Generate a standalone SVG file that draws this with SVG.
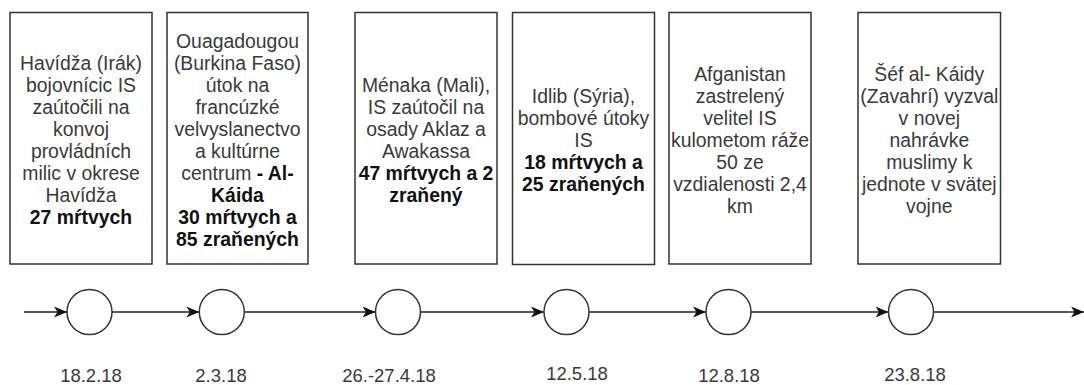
<svg xmlns="http://www.w3.org/2000/svg" width="1084" height="385" viewBox="0 0 1084 385">
<defs>
<style>
.box{fill:#fff;stroke:#333;stroke-width:1.5}
.ev{fill:#fff;stroke:#333;stroke-width:1.5}
.t{font-family:"Liberation Sans",Arial,sans-serif;font-size:19.4px;fill:#3a3a3a;text-anchor:middle}
.b{font-weight:bold;fill:#111}
.d{font-family:"Liberation Sans",Arial,sans-serif;font-size:18.5px;fill:#3a3a3a;text-anchor:middle}
.c{fill:none;stroke:#222;stroke-width:1.5}
</style>
<marker id="arr" markerUnits="userSpaceOnUse" markerWidth="14" markerHeight="12" refX="13" refY="6" orient="auto">
<path d="M0,0.5 L13,6 L0,11.5 L3.5,6 Z" fill="#111"/>
</marker>
</defs>
<rect width="1084" height="385" fill="#fff"/>
<g id="connectors">
<line class="c" x1="24" y1="312" x2="67" y2="312" marker-end="url(#arr)"/>
<line class="c" x1="112" y1="312" x2="199.3" y2="312" marker-end="url(#arr)"/>
<line class="c" x1="244.3" y1="312" x2="375.5" y2="312" marker-end="url(#arr)"/>
<line class="c" x1="420.5" y1="312" x2="544" y2="312" marker-end="url(#arr)"/>
<line class="c" x1="589" y1="312" x2="706" y2="312" marker-end="url(#arr)"/>
<line class="c" x1="751" y1="312" x2="888.5" y2="312" marker-end="url(#arr)"/>
<line class="c" x1="933.5" y1="312" x2="1084" y2="312" marker-end="url(#arr)"/>
</g>
<g id="box1">
<rect class="box" x="10" y="12.5" width="142" height="251.5"/>
<text class="t" x="81" y="69.5">Havídža (Irák)<tspan x="81" dy="22">bojovnícic IS</tspan><tspan x="81" dy="22">zaútočili na</tspan><tspan x="81" dy="22">konvoj</tspan><tspan x="81" dy="22">provládních</tspan><tspan x="81" dy="22">milic v okrese</tspan><tspan x="81" dy="22">Havídža</tspan><tspan x="81" dy="22" class="b">27 mŕtvych</tspan></text>
</g>
<g id="box2">
<rect class="box" x="167" y="12.5" width="141" height="251.5"/>
<text class="t" x="237.5" y="47.5">Ouagadougou<tspan x="237.5" dy="22">(Burkina Faso)</tspan><tspan x="237.5" dy="22">útok na</tspan><tspan x="237.5" dy="22">francúzké</tspan><tspan x="237.5" dy="22">velvyslanectvo</tspan><tspan x="237.5" dy="22">a kultúrne</tspan><tspan x="237.5" dy="22">centrum <tspan class="b">- Al-</tspan></tspan><tspan x="237.5" dy="22" class="b">Káida</tspan><tspan x="237.5" dy="22" class="b">30 mŕtvych a</tspan><tspan x="237.5" dy="22" class="b">85 zraňených</tspan></text>
</g>
<g id="box3">
<rect class="box" x="355" y="12.5" width="142" height="251.5"/>
<text class="t" x="426" y="91.5">Ménaka (Mali),<tspan x="426" dy="22">IS zaútočil na</tspan><tspan x="426" dy="22">osady Aklaz a</tspan><tspan x="426" dy="22">Awakassa</tspan><tspan x="426" dy="22" class="b">47 mŕtvych a 2</tspan><tspan x="426" dy="22" class="b">zraňený</tspan></text>
</g>
<g id="box4">
<rect class="box" x="512.5" y="12.5" width="142" height="252"/>
<text class="t" x="583.5" y="102.5">Idlib (Sýria),<tspan x="583.5" dy="22">bombové útoky</tspan><tspan x="583.5" dy="22">IS</tspan><tspan x="583.5" dy="22" class="b">18 mŕtvych a</tspan><tspan x="583.5" dy="22" class="b">25 zraňených</tspan></text>
</g>
<g id="box5">
<rect class="box" x="669" y="12.5" width="142" height="251.5"/>
<text class="t" x="740" y="80.5">Afganistan<tspan x="740" dy="22">zastrelený</tspan><tspan x="740" dy="22">velitel IS</tspan><tspan x="740" dy="22">kulometom ráže</tspan><tspan x="740" dy="22">50 ze</tspan><tspan x="740" dy="22">vzdialenosti 2,4</tspan><tspan x="740" dy="22">km</tspan></text>
</g>
<g id="box6">
<rect class="box" x="858" y="12.5" width="142.5" height="251.5"/>
<text class="t" x="929.3" y="80.5">Šéf al- Káidy<tspan x="929.3" dy="22">(Zavahrí) vyzval</tspan><tspan x="929.3" dy="22">v novej</tspan><tspan x="929.3" dy="22">nahrávke</tspan><tspan x="929.3" dy="22">muslimy k</tspan><tspan x="929.3" dy="22">jednote v svätej</tspan><tspan x="929.3" dy="22">vojne</tspan></text>
</g>
<g id="ev1"><circle class="ev" cx="89.5" cy="312" r="22.5"/><text class="d" x="91" y="381.5">18.2.18</text></g>
<g id="ev2"><circle class="ev" cx="221.8" cy="312" r="22.5"/><text class="d" x="221" y="381.5">2.3.18</text></g>
<g id="ev3"><circle class="ev" cx="398" cy="312" r="22.5"/><text class="d" x="389" y="381.5">26.-27.4.18</text></g>
<g id="ev4"><circle class="ev" cx="566.5" cy="312" r="22.5"/><text class="d" x="577" y="379.5">12.5.18</text></g>
<g id="ev5"><circle class="ev" cx="728.5" cy="312" r="22.5"/><text class="d" x="729" y="381.5">12.8.18</text></g>
<g id="ev6"><circle class="ev" cx="911" cy="312" r="22.5"/><text class="d" x="915" y="381">23.8.18</text></g>
</svg>
